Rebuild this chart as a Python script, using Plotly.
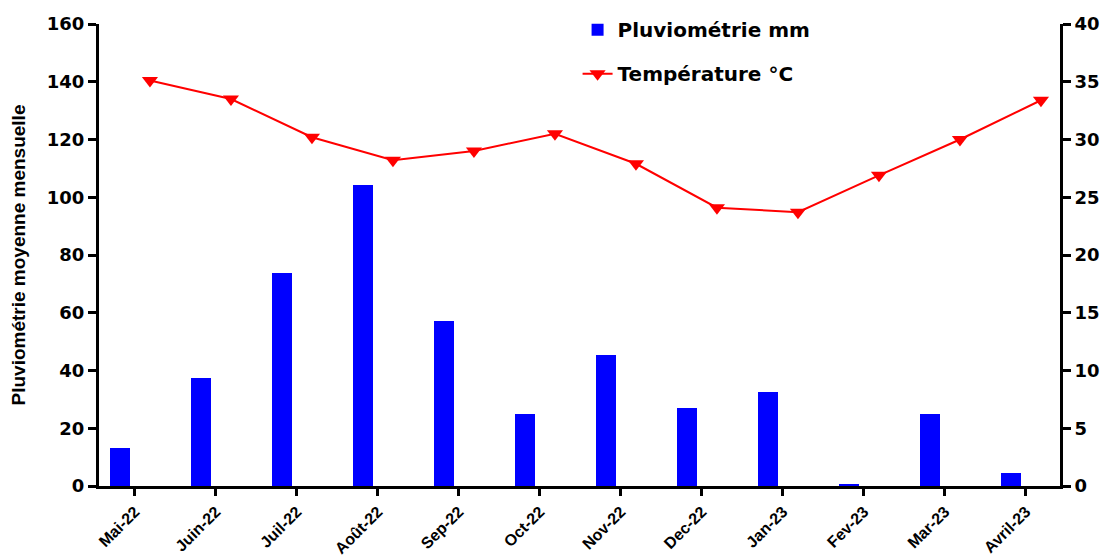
import plotly.graph_objects as go

months = ["Mai-22", "Juin-22", "Juil-22", "Août-22", "Sep-22", "Oct-22",
          "Nov-22", "Dec-22", "Jan-23", "Fev-23", "Mar-23", "Avril-23"]
pluvio_mm = [13.1, 37.3, 73.7, 104.3, 57.1, 25.1, 45.3, 26.9, 32.5, 0.6, 24.8, 4.4]
temperature_c = [35.1, 33.5, 30.2, 28.2, 29.0, 30.5, 27.9, 24.1, 23.7, 26.9, 30.0, 33.4]

left_ticks = [0, 20, 40, 60, 80, 100, 120, 140, 160]
right_ticks = [0, 5, 10, 15, 20, 25, 30, 35, 40]

NUM_FONT = "DejaVu Sans"
TXT_FONT = "Liberation Sans, Arial"

x_range = [-0.444, 11.42]
shift = 0.185  # temperature markers drawn right of the category centre

fig = go.Figure()
fig.add_trace(go.Bar(
    x=months, y=pluvio_mm, name="<b>Pluviométrie mm</b>",
    marker=dict(color="#0000FF", line=dict(width=0)),
    width=0.247, offset=-0.308,
    xaxis="x", yaxis="y", legendgroup="a",
))
fig.add_trace(go.Scatter(
    x=months, y=temperature_c, name="<b>Température °C</b>",
    mode="lines+markers",
    line=dict(color="#FF0000", width=2),
    marker=dict(symbol="triangle-down", size=14, color="#FF0000"),
    xaxis="x2", yaxis="y2", legendgroup="b",
))

axis_common = dict(showline=True, linecolor="black", linewidth=3,
                   ticks="outside", tickwidth=3, tickcolor="black",
                   showgrid=False, zeroline=False, automargin=False)

fig.update_layout(
    width=1111, height=556,
    margin=dict(l=99, r=51, t=24, b=70, autoexpand=False),
    plot_bgcolor="white", paper_bgcolor="white",
    showlegend=True,
    legend=dict(x=0.498, y=1.03, xanchor="left", yanchor="top",
                bgcolor="rgba(0,0,0,0)", tracegroupgap=15,
                font=dict(family=NUM_FONT, size=20, color="black")),
    xaxis=dict(type="category", categoryorder="array", categoryarray=months,
               range=x_range, ticklen=7, tickangle=-45,
               tickfont=dict(family=TXT_FONT, size=16, color="black", weight="bold"),
               **axis_common),
    xaxis2=dict(type="category", categoryorder="array", categoryarray=months,
                range=[x_range[0] - shift, x_range[1] - shift],
                overlaying="x", visible=False),
    yaxis=dict(range=[0, 160], tickvals=left_ticks, ticklen=8,
               tickfont=dict(family=NUM_FONT, size=18, color="black", weight="bold"),
               title=dict(text="<b>Pluviométrie moyenne mensuelle</b>",
                          font=dict(family=TXT_FONT, size=19, color="black"),
                          standoff=17),
               **axis_common),
    yaxis2=dict(range=[0, 40], tickvals=right_ticks, ticklen=8,
                overlaying="y", side="right", anchor="x",
                tickfont=dict(family=NUM_FONT, size=18, color="black", weight="bold"),
                **axis_common),
    bargap=0,
)

fig.write_html("out.html")
